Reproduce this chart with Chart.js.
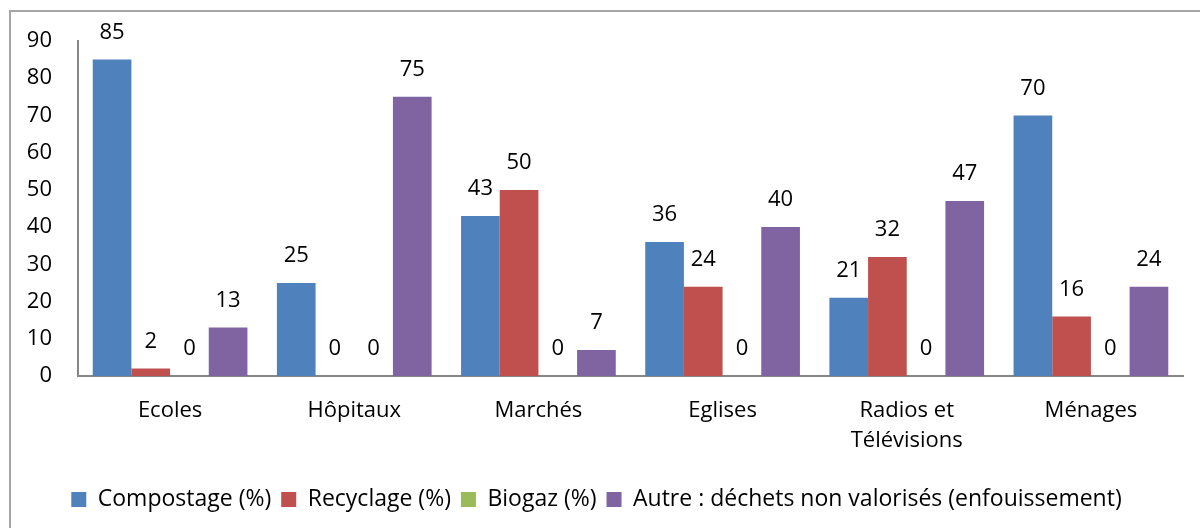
<!DOCTYPE html>
<html>
<head>
<meta charset="utf-8">
<script src="https://cdn.jsdelivr.net/npm/chart.js@4"></script>
<style>
  html, body { margin: 0; padding: 0; background: #fff; }
  #wrap { position: relative; width: 1200px; height: 528px; overflow: hidden; }
  #frame { position: absolute; left: 9px; top: 10px; width: 1300px; height: 600px; border: 2px solid #a6a6a6; box-sizing: border-box; }
  canvas { position: absolute; left: 0; top: 0; }
</style>
</head>
<body>
<div id="wrap">
  <div id="frame"></div>
  <canvas id="chart" width="1200" height="528"></canvas>
</div>
<script>
// Data
const categories = ['Ecoles', 'Hôpitaux', 'Marchés', 'Eglises', ['Radios et', 'Télévisions'], 'Ménages'];
const compostage = [85, 25, 43, 36, 21, 70];
const recyclage = [2, 0, 50, 24, 32, 16];
const biogaz = [0, 0, 0, 0, 0, 0];
const autre = [13, 75, 7, 40, 47, 24];
const yTicks = [0, 10, 20, 30, 40, 50, 60, 70, 80, 90];

const FONT = 'Open Sans, sans-serif';
const colors = {
  blue: '#4f81bd',
  red: '#c0504d',
  green: '#9bbb59',
  purple: '#8064a2',
  axis: '#868686',
  text: '#000000'
};

// value labels above each bar
const barLabels = {
  id: 'barLabels',
  afterDatasetsDraw(chart) {
    const ctx = chart.ctx;
    ctx.save();
    ctx.font = '22px ' + FONT;
    ctx.fillStyle = colors.text;
    ctx.textAlign = 'center';
    ctx.textBaseline = 'middle';
    chart.data.datasets.forEach((ds, i) => {
      chart.getDatasetMeta(i).data.forEach((bar, j) => {
        ctx.fillText(String(ds.data[j]), bar.x, bar.y - 27);
      });
    });
    ctx.restore();
  }
};

new Chart(document.getElementById('chart'), {
  type: 'bar',
  data: {
    labels: categories,
    datasets: [
      { label: 'Compostage (%)', data: compostage, backgroundColor: colors.blue },
      { label: 'Recyclage (%)', data: recyclage, backgroundColor: colors.red },
      { label: 'Biogaz (%)', data: biogaz, backgroundColor: colors.green },
      { label: 'Autre : déchets non valorisés (enfouissement)', data: autre, backgroundColor: colors.purple }
    ]
  },
  options: {
    responsive: false,
    animation: false,
    layout: { padding: { left: 10, right: 17, top: 41, bottom: 7 } },
    datasets: { bar: { categoryPercentage: 0.84, barPercentage: 1.0 } },
    plugins: {
      legend: {
        position: 'bottom',
        labels: {
          color: colors.text,
          font: { family: FONT, size: 23 },
          boxWidth: 15,
          boxHeight: 15,
          padding: 10
        }
      },
      tooltip: { enabled: false }
    },
    scales: {
      x: {
        grid: { display: false, drawTicks: false },
        border: { color: colors.axis, width: 2 },
        ticks: { color: colors.text, font: { family: FONT, size: 22, lineHeight: 1.35 }, padding: 20, maxRotation: 0 },
        afterFit: (scale) => { scale.height = 102; }
      },
      y: {
        min: 0,
        max: 90,
        afterBuildTicks: (scale) => { scale.ticks = yTicks.map(v => ({ value: v })); },
        grid: { display: false, drawTicks: false },
        border: { color: colors.axis, width: 2 },
        ticks: { color: colors.text, font: { family: FONT, size: 22 }, padding: 26 },
        afterFit: (scale) => { scale.width = 68; }
      }
    }
  },
  plugins: [barLabels]
});
</script>
</body>
</html>
